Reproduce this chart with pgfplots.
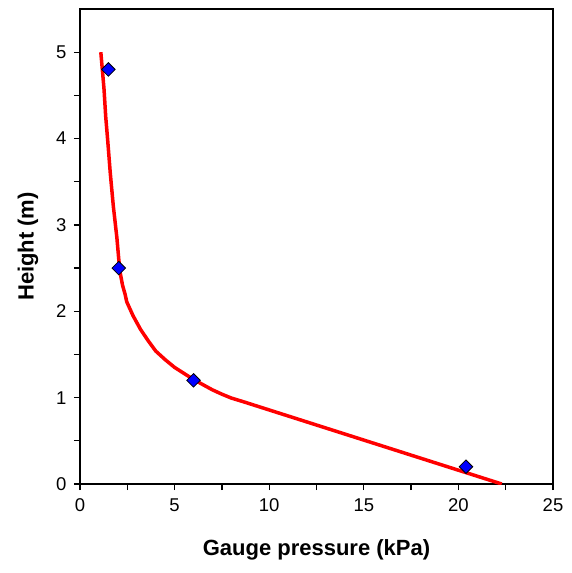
\documentclass[border=0pt]{standalone}
\usepackage{fontspec}
\setmainfont{Liberation Sans}
\usepackage{pgfplots}
\pgfplotsset{compat=1.18}

\begin{document}
\begin{tikzpicture}
\begin{axis}[
  width=473pt, height=475pt, scale only axis,
  xmin=0, xmax=25, ymin=0, ymax=5.5,
  xtick={0,5,10,15,20,25}, ytick={0,1,2,3,4,5},
  minor x tick num=1, minor y tick num=1,
  tick align=outside, xtick pos=bottom, ytick pos=left,
  major tick length=6pt, minor tick length=6pt,
  every tick/.style={black, line width=1.3pt},
  axis line style={line width=1.3pt},
  /pgf/number format/assume math mode=true,
  tick label style={font=\fontsize{18.5}{20}\selectfont},
  xticklabel style={yshift=-5pt},
  yticklabel style={xshift=-4pt},
  xlabel={\textbf{Gauge pressure (kPa)}},
  ylabel={\textbf{Height (m)}},
  label style={font=\fontsize{22}{24}\selectfont},
  xlabel style={at={(axis description cs:0.5,-0.139)}, anchor=center},
  ylabel style={at={(axis description cs:-0.110,0.5)}, anchor=center},
]
\addplot[red, line width=3.5pt] coordinates {
  (1.10,5.00) (1.18,4.80) (1.27,4.57) (1.36,4.25) (1.46,3.99) (1.60,3.60)
  (1.76,3.22) (1.95,2.85) (2.05,2.60) (2.12,2.45) (2.25,2.30) (2.38,2.20) (2.47,2.11)
  (2.80,1.95) (3.20,1.79) (3.60,1.66) (4.00,1.54) (4.50,1.44) (5.00,1.35)
  (5.50,1.28) (6.00,1.21) (6.50,1.15) (7.00,1.09) (7.50,1.04) (8.00,0.995)
  (8.60,0.955) (22.29,0.00)
};
\addplot[only marks, mark=square*, mark size=4.8pt,
  mark options={rotate=45, fill=blue, draw=black, line width=0.8pt}] coordinates {
  (1.50,4.80) (2.05,2.50) (6.00,1.20) (20.40,0.20)
};
\coordinate (bl) at (rel axis cs:0,0);
\coordinate (tr) at (rel axis cs:1,1);
\end{axis}
\pgfresetboundingbox
\path ([shift={(-80pt,-89pt)}]bl) rectangle ([shift={(18pt,9pt)}]tr);
\end{tikzpicture}
\end{document}
